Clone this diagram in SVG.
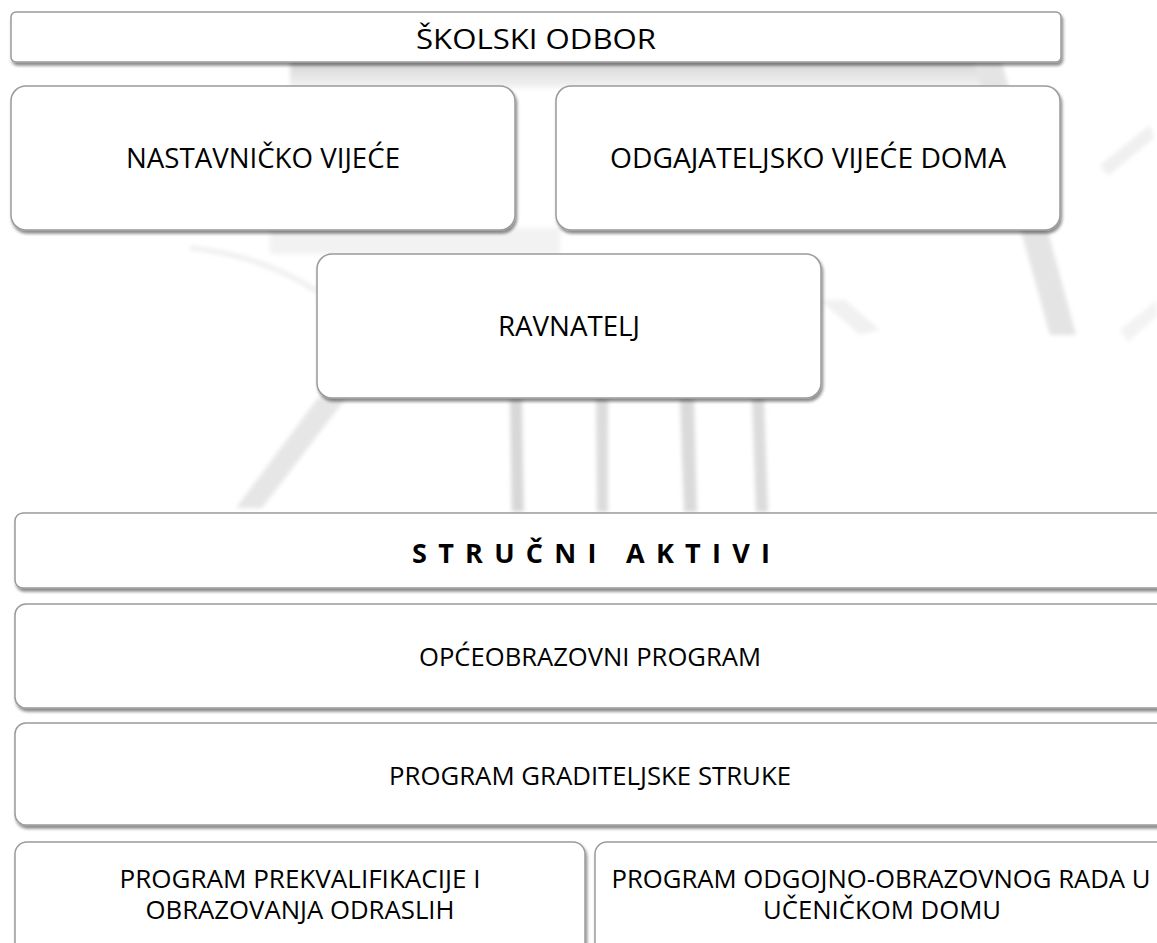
<svg xmlns="http://www.w3.org/2000/svg" width="1157" height="943" viewBox="0 0 1157 943">
<defs>
<filter id="sh" x="-5%" y="-20%" width="110%" height="150%">
<feDropShadow dx="1.5" dy="3" stdDeviation="1.6" flood-color="#000" flood-opacity="0.45"/>
</filter>
<filter id="soft" x="-10%" y="-10%" width="120%" height="120%">
<feGaussianBlur stdDeviation="2"/>
</filter>
<linearGradient id="bandA" x1="0" y1="0" x2="0" y2="1">
<stop offset="0" stop-color="#d4d4d4"/>
<stop offset="1" stop-color="#f3f3f3"/>
</linearGradient>
<pattern id="thread" width="6" height="6" patternUnits="userSpaceOnUse">
<rect width="6" height="6" fill="#dcdcdc"/>
<circle cx="3" cy="3" r="1.4" fill="#c4c4c4"/>
</pattern>
<style>
.box{fill:#fff;stroke:#9a9a9a;stroke-width:1.5;filter:url(#sh)}
.t{font-family:"Open Sans","Noto Sans",sans-serif;fill:#000;text-anchor:middle}
.u{font-size:28px}
.l{font-size:25px}
</style>
</defs>
<rect width="1157" height="943" fill="#fff"/>
<g id="background" filter="url(#soft)">
<rect x="290" y="60" width="690" height="28" fill="url(#bandA)"/>
<polygon points="972,55 1000,55 1076,335 1050,335" fill="#e4e4e4"/>
<polygon points="1100,165 1150,125 1154,138 1108,176" fill="#f0f0f0"/>
<polygon points="1120,330 1157,300 1157,316 1128,342" fill="#f3f3f3"/>
<rect x="270" y="228" width="290" height="26" fill="#f2f2f2"/>
<path d="M190,248 Q262,255 318,292" fill="none" stroke="#efefef" stroke-width="5"/>
<polygon points="318,398 346,398 262,508 236,508" fill="#e6e6e6"/>
<polygon points="510,398 522,398 524,512 512,512" fill="url(#thread)"/>
<polygon points="596,398 608,398 608,512 597,512" fill="#dcdcdc"/>
<polygon points="680,398 694,398 697,512 684,512" fill="#dadada"/>
<polygon points="752,398 764,398 768,512 756,512" fill="#dcdcdc"/>
<polygon points="820,300 845,300 880,330 860,335" fill="#f1f1f1"/>
</g>
<g id="connectors"></g>
<g id="n-skolski-odbor">
<rect class="box" x="11" y="12" width="1050" height="50" rx="5"/>
<text class="t u" x="536" y="49" textLength="240" lengthAdjust="spacingAndGlyphs">ŠKOLSKI ODBOR</text>
</g>
<g id="n-nastavnicko">
<rect class="box" x="11" y="86" width="504" height="144" rx="15"/>
<text class="t u" x="263" y="168" textLength="274" lengthAdjust="spacingAndGlyphs">NASTAVNIČKO VIJEĆE</text>
</g>
<g id="n-odgajateljsko">
<rect class="box" x="556" y="86" width="504" height="144" rx="15"/>
<text class="t u" x="808" y="168" textLength="396" lengthAdjust="spacingAndGlyphs">ODGAJATELJSKO VIJEĆE DOMA</text>
</g>
<g id="n-ravnatelj">
<rect class="box" x="317" y="254" width="504" height="144" rx="15"/>
<text class="t u" x="569" y="336" textLength="142" lengthAdjust="spacingAndGlyphs">RAVNATELJ</text>
</g>
<g id="n-strucni-aktivi">
<rect class="box" x="15" y="513" width="1160" height="75" rx="8"/>
<text class="t" x="591" y="563" font-size="27" font-weight="bold" textLength="358" lengthAdjust="spacing">STRUČNI AKTIVI</text>
</g>
<g id="n-opceobrazovni">
<rect class="box" x="15" y="604" width="1160" height="104" rx="11"/>
<text class="t l" x="590" y="666" textLength="342" lengthAdjust="spacingAndGlyphs">OPĆEOBRAZOVNI PROGRAM</text>
</g>
<g id="n-graditeljske">
<rect class="box" x="15" y="723" width="1160" height="102" rx="11"/>
<text class="t l" x="590" y="785" textLength="402" lengthAdjust="spacingAndGlyphs">PROGRAM GRADITELJSKE STRUKE</text>
</g>
<g id="n-prekvalifikacije">
<rect class="box" x="15" y="842" width="570" height="120" rx="12"/>
<text class="t l" x="300" y="888" textLength="361" lengthAdjust="spacingAndGlyphs">PROGRAM PREKVALIFIKACIJE I</text>
<text class="t l" x="300" y="919" textLength="309" lengthAdjust="spacingAndGlyphs">OBRAZOVANJA ODRASLIH</text>
</g>
<g id="n-ucenicki-dom">
<rect class="box" x="595" y="842" width="580" height="120" rx="12"/>
<text class="t l" x="881" y="888" textLength="539" lengthAdjust="spacingAndGlyphs">PROGRAM ODGOJNO-OBRAZOVNOG RADA U</text>
<text class="t l" x="882" y="919" textLength="238" lengthAdjust="spacingAndGlyphs">UČENIČKOM DOMU</text>
</g>
</svg>
